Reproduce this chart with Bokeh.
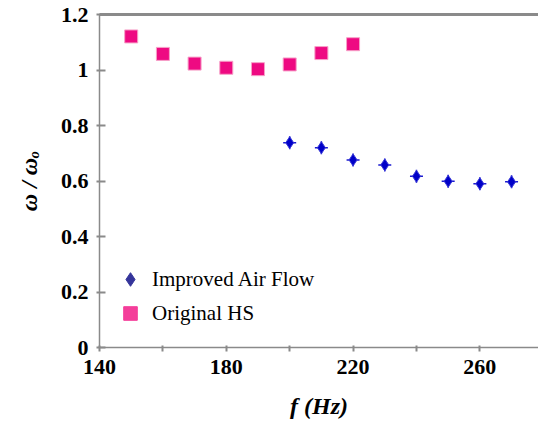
import math
from bokeh.plotting import figure
from bokeh.models import (Range1d, FixedTicker, LinearAxis, Legend, LegendItem,
                          ColumnDataSource)
from bokeh.embed import file_html
from bokeh.resources import INLINE

# Normalised response vs. frequency
freq_original = [150, 160, 170, 180, 190, 200, 210, 220]
ratio_original = [1.121, 1.058, 1.023, 1.008, 1.003, 1.020, 1.061, 1.093]

freq_improved = [200, 210, 220, 230, 240, 250, 260, 270]
ratio_improved = [0.738, 0.720, 0.676, 0.658, 0.617, 0.599, 0.590, 0.597]

x_ticks = [140, 160, 180, 200, 220, 240, 260, 280]
x_tick_labels = ["140", "", "180", "", "220", "", "260", ""]
y_ticks = [0, 0.2, 0.4, 0.6, 0.8, 1.0, 1.2]
y_tick_labels = ["0", "0.2", "0.4", "0.6", "0.8", "1", "1.2"]

FONT = "'Liberation Serif', 'Times New Roman', serif"
GRAY = "#8a8a8a"

p = figure(width=538, height=428, output_backend="svg", toolbar_location=None,
           x_range=Range1d(140, 278.5), y_range=Range1d(0, 1.2),
           min_border_left=99, min_border_right=0, min_border_top=14,
           min_border_bottom=81, x_axis_type=None, y_axis_type=None)
p.outline_line_color = None
p.xgrid.visible = False
p.ygrid.visible = False
p.background_fill_color = "white"
p.border_fill_color = "white"

xaxis = LinearAxis(ticker=FixedTicker(ticks=x_ticks),
                   major_label_overrides={t: l for t, l in zip(x_ticks, x_tick_labels)})
yaxis = LinearAxis(ticker=FixedTicker(ticks=y_ticks),
                   major_label_overrides={t: l for t, l in zip(y_ticks, y_tick_labels)})
p.add_layout(xaxis, "below")
p.add_layout(yaxis, "left")

for ax in (xaxis, yaxis):
    ax.axis_line_color = GRAY
    ax.axis_line_width = 1.5
    ax.major_tick_line_color = GRAY
    ax.major_tick_line_width = 2
    ax.minor_tick_line_color = None
    ax.major_label_text_font = FONT
    ax.major_label_text_font_style = "bold"
    ax.major_label_text_font_size = "22px"
    ax.major_label_text_color = "black"
    ax.axis_label_text_font = FONT
    ax.axis_label_text_font_style = "bold italic"
    ax.axis_label_text_font_size = "24px"
    ax.axis_label_text_color = "black"

xaxis.major_tick_in = 2
xaxis.major_tick_out = 4
xaxis.major_label_standoff = 8
xaxis.axis_label = "f (Hz)"
xaxis.axis_label_standoff = 16

yaxis.major_tick_in = 6
yaxis.major_tick_out = 3
yaxis.major_label_standoff = 8
yaxis.axis_label = "ω / ωₒ"
yaxis.axis_label_standoff = 16

# top border line
top = LinearAxis(ticker=FixedTicker(ticks=[]), axis_line_color=GRAY,
                 axis_line_width=3, major_tick_line_color=None,
                 minor_tick_line_color=None, major_label_text_font_size="0px")
p.add_layout(top, "above")

src_orig = ColumnDataSource(dict(x=freq_original, y=ratio_original))
src_impr = ColumnDataSource(dict(x=freq_improved, y=ratio_improved))

p.scatter("x", "y", source=src_orig, marker="square", size=13,
          fill_color="#ee0a82", line_color="#f7a0c8", line_width=1)
p.scatter("x", "y", source=src_impr, marker="cross", size=13,
          line_color="#1a1ad0", line_width=1.5)
p.scatter("x", "y", source=src_impr, marker="diamond", size=12,
          fill_color="#0000c8", line_color="#3a3ad8", line_width=1)

# legend swatches (NaN points: only drawn inside the legend)
nan_src = ColumnDataSource(dict(x=[math.nan], y=[math.nan]))
leg_impr = p.scatter("x", "y", source=nan_src, marker="diamond", size=15,
                     fill_color="#34349a", line_color="#34349a")
leg_orig = p.scatter("x", "y", source=nan_src, marker="square", size=15,
                     fill_color="#f43e9a", line_color="#f43e9a")

legend = Legend(items=[LegendItem(label="Improved Air Flow", renderers=[leg_impr]),
                       LegendItem(label="Original HS", renderers=[leg_orig])],
                location=(14, 17), orientation="vertical",
                border_line_color=None, background_fill_alpha=0,
                glyph_width=34, glyph_height=34, label_height=30,
                label_standoff=5, spacing=0, padding=10,
                label_text_font=FONT, label_text_font_size="21px",
                label_text_color="black")
p.add_layout(legend, "center")

open("out.html", "w").write(file_html(p, INLINE))
